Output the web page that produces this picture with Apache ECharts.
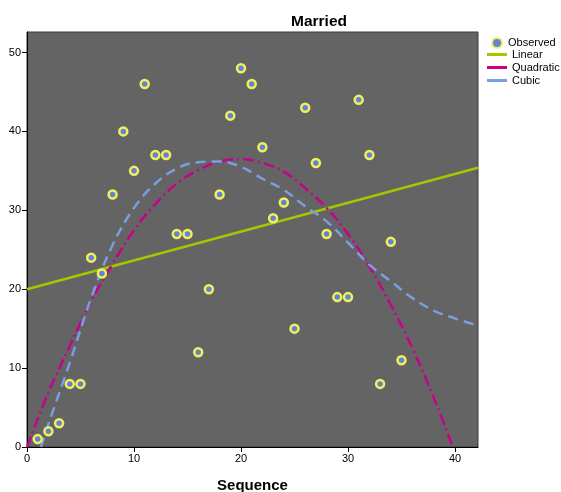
<!DOCTYPE html>
<html>
<head>
<meta charset="utf-8">
<script src="https://cdn.jsdelivr.net/npm/echarts@6/dist/echarts.min.js"></script>
<style>
  html, body { margin: 0; padding: 0; background: #ffffff; }
  #chart { width: 561px; height: 492px; }
</style>
</head>
<body>
<div id="chart"></div>
<script>
// observed points: sequence -> married
const sequence = [1, 2, 3, 4, 5, 6, 7, 8, 9, 10, 11, 12, 13, 14, 15, 16, 17, 18,
  19, 20, 21, 22, 23, 24, 25, 26, 27, 28, 29, 30, 31, 32, 33, 34, 35]
const married = [1, 2, 3, 8, 8, 24, 22, 32, 40, 35, 46, 37, 37, 27, 27, 12, 20, 32,
  42, 48, 46, 38, 29, 31, 15, 43, 36, 27, 19, 19, 44, 37, 8, 26, 11]

// fit lines
const linearX = [0, 42.15]
const linearY = [20.0, 35.4]
const quadX = [0, 2, 4, 6, 8, 10, 12, 14, 16, 18, 20, 22, 24, 26, 28, 30, 32, 34, 36, 38, 39.8]
const quadY = [0, 6.9, 12.8, 18.5, 23.2, 27.5, 30.8, 33.4, 35.1, 36.2, 36.5, 36.0, 34.9, 32.8, 30.3, 27.0, 22.9, 18.0, 12.6, 6.3, 0]
const cubicX = [1.3, 2, 4, 6, 8, 10, 12, 14, 16, 18, 20, 22, 24, 26, 28, 30, 32, 34, 36, 38, 40, 42.15]
const cubicY = [0, 2.9, 10.7, 18.9, 25.6, 30.3, 33.4, 35.3, 36.1, 36.2, 35.5, 34.0, 32.6, 30.5, 28.6, 25.9, 23.1, 21.0, 18.9, 17.3, 16.3, 15.4]

const xTicks = [0, 10, 20, 30, 40]
const yTicks = [0, 10, 20, 30, 40, 50]

const zip = (xs, ys) => xs.map((x, i) => [x, ys[i]])

const chart = echarts.init(document.getElementById('chart'))

const legendText = { fontSize: 11, color: '#000' }

const option = {
  animation: false,
  textStyle: { fontFamily: 'Arial, "Liberation Sans", sans-serif' },
  title: {
    text: 'Married',
    left: 286,
    top: 9,
    textStyle: { fontSize: 15.5, fontWeight: 'bold', color: '#000' },
  },
  legend: [
    {
      // point legend
      orient: 'vertical',
      left: 491,
      top: 37,
      padding: 0,
      itemWidth: 12,
      itemHeight: 10,
      itemGap: 2,
      textStyle: legendText,
      data: [{ name: 'Observed', icon: 'circle' }],
    },
    {
      // fit line legend
      orient: 'vertical',
      left: 487,
      top: 49,
      padding: 0,
      itemWidth: 20,
      itemHeight: 3,
      itemGap: 2,
      textStyle: legendText,
      data: [
        { name: 'Linear', icon: 'rect' },
        { name: 'Quadratic', icon: 'rect' },
        { name: 'Cubic', icon: 'rect' },
      ],
    },
  ],
  grid: {
    left: 27,
    right: 83,
    top: 32,
    bottom: 45,
    outerBoundsMode: 'none',
    show: true,
    backgroundColor: '#646464',
    borderColor: '#3a3a3a',
    borderWidth: 1,
  },
  xAxis: {
    type: 'value',
    min: 0,
    max: 42.15,
    interval: 10,
    name: 'Sequence',
    nameLocation: 'middle',
    nameGap: 31,
    nameTextStyle: { fontSize: 15, fontWeight: 'bold', color: '#000' },
    splitLine: { show: false },
    axisLine: { onZero: false, lineStyle: { color: '#000' } },
    axisTick: { length: 5, lineStyle: { color: '#000' } },
    axisLabel: {
      fontSize: 11, color: '#000', margin: 6,
      showMaxLabel: false,
      formatter: v => (xTicks.includes(v) ? String(v) : ''),
    },
  },
  yAxis: {
    type: 'value',
    min: 0,
    max: 52.6,
    interval: 10,
    splitLine: { show: false },
    axisLine: { show: true, onZero: false, lineStyle: { color: '#000' } },
    axisTick: { show: true, length: 5, lineStyle: { color: '#000' } },
    axisLabel: {
      fontSize: 11, color: '#000', margin: 6,
      showMaxLabel: false,
      formatter: v => (yTicks.includes(v) ? String(v) : ''),
    },
  },
  series: [
    {
      name: 'Linear',
      type: 'line',
      data: zip(linearX, linearY),
      showSymbol: false,
      color: '#a2c800',
      lineStyle: { width: 2.5, color: '#a2c800' },
      z: 2,
    },
    {
      name: 'Quadratic',
      type: 'line',
      data: zip(quadX, quadY),
      smooth: 0.4,
      showSymbol: false,
      color: '#c8008c',
      lineStyle: { width: 2.5, color: '#c8008c', type: [11, 4, 2, 4] },
      z: 3,
    },
    {
      name: 'Cubic',
      type: 'line',
      data: zip(cubicX, cubicY),
      smooth: 0.4,
      showSymbol: false,
      color: '#7a9ee0',
      lineStyle: { width: 2.5, color: '#7a9ee0', type: [10, 6] },
      z: 3,
    },
    {
      name: 'Observed',
      type: 'scatter',
      data: zip(sequence, married),
      symbol: 'circle',
      symbolSize: 8,
      itemStyle: { color: '#5a86d8', borderColor: '#f5ee5a', borderWidth: 2.5, opacity: 1 },
      z: 5,
    },
  ],
}

chart.setOption(option)
</script>
</body>
</html>
